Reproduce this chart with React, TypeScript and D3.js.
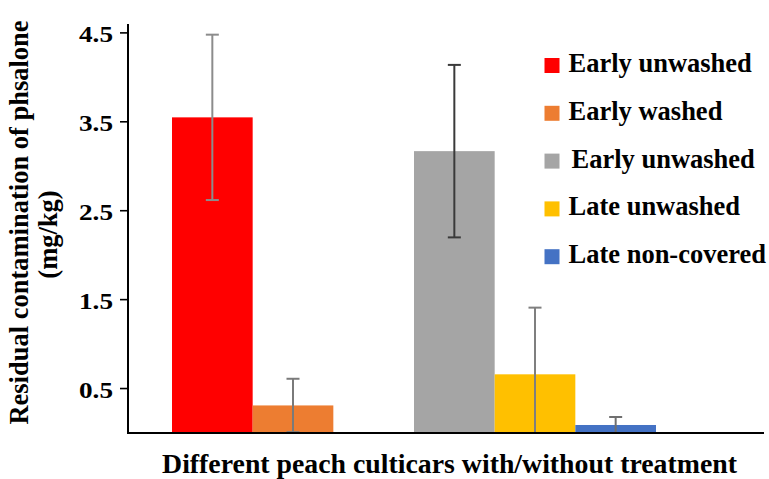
import React from "react";
import * as d3 from "d3";

const seriesNames = ["Early unwashed", "Early washed", "Early unwashed", "Late unwashed", "Late non-covered"];
const groupOfSeries = [0, 0, 1, 1, 1];
const slotInGroup = [0, 1, 0, 1, 2];
const groups = ["g1", "g2"];
const values = [3.55, 0.31, 3.17, 0.66, 0.09];
const errors = [0.93, 0.30, 0.97, 0.75, 0.09];
const yTicks = [0.5, 1.5, 2.5, 3.5, 4.5];

const barColors = ["#FF0000", "#ED7D31", "#A5A5A5", "#FFC000", "#4472C4"];
const errColors = ["#8c8c8c", "#7a7a7a", "#3a3a3a", "#7f7f7f", "#6f6f6f"];

const W = 769, H = 479;
const txt: React.CSSProperties = {
  fontFamily: '"Liberation Serif", "DejaVu Serif", serif',
  fontWeight: 700,
};

export default function App() {
  const y = d3.scaleLinear().domain([0, 4.6]).range([433, 24]);
  const x0 = d3.scaleBand<string>().domain(groups).range([172, 656]).paddingInner(0).paddingOuter(0);
  const x1 = d3.scaleBand<string>().domain(["0", "1", "2"]).range([0, x0.bandwidth()]);
  const axisX = 128, axisRight = 764;

  return (
    <svg width={W} height={H} style={{ position: "absolute", left: 0, top: 0 }}>
      <rect width={W} height={H} fill="#fff" />
      {values.map((v, i) => {
        const bx = (x0(groups[groupOfSeries[i]]) as number) + (x1(String(slotInGroup[i])) as number);
        const bw = x1.bandwidth();
        return <rect key={"b" + i} x={bx} y={y(v)} width={bw} height={y(0) - y(v)} fill={barColors[i]} />;
      })}
      {values.map((v, i) => {
        const cx = (x0(groups[groupOfSeries[i]]) as number) + (x1(String(slotInGroup[i])) as number) + x1.bandwidth() / 2;
        const hi = v + errors[i];
        const loRaw = v - errors[i];
        const lo = Math.max(0, loRaw);
        const cap = 6.5;
        return (
          <g key={"e" + i} stroke={errColors[i]} strokeWidth={2}>
            <line x1={cx} x2={cx} y1={y(hi)} y2={y(lo)} />
            <line x1={cx - cap} x2={cx + cap} y1={y(hi)} y2={y(hi)} />
            {loRaw >= 0 && <line x1={cx - cap} x2={cx + cap} y1={y(lo)} y2={y(lo)} />}
          </g>
        );
      })}
      <line x1={axisX} x2={axisX} y1={y(4.6)} y2={y(0) + 1} stroke="#000" strokeWidth={2} />
      <line x1={axisX - 1} x2={axisRight} y1={y(0)} y2={y(0)} stroke="#000" strokeWidth={2.2} />
      {yTicks.map((t) => (
        <g key={"t" + t}>
          <line x1={axisX - 8} x2={axisX} y1={y(t)} y2={y(t)} stroke="#000" strokeWidth={1.6} />
          <text x={113} y={y(t) + 9} textAnchor="end" fontSize={22.5} textLength={34} lengthAdjust="spacingAndGlyphs" fill="#000" style={txt}>
            {d3.format(".1f")(t)}
          </text>
        </g>
      ))}
      <text transform="translate(28,222.5) rotate(-90)" textAnchor="middle" fontSize={26.5} fill="#000" style={txt}>
        Residual contamination of phsalone
      </text>
      <text transform="translate(57,234.5) rotate(-90)" textAnchor="middle" fontSize={26.5} fill="#000" style={txt}>
        (mg/kg)
      </text>
      <text x={449.5} y={473} textAnchor="middle" fontSize={27.8} fill="#000" style={txt}>
        Different peach culticars with/without treatment
      </text>
      {seriesNames.map((s, i) => {
        const cy = 65.5 + i * 47.8;
        return (
          <g key={"l" + i}>
            <rect x={544.5} y={cy - 7.5} width={15} height={15} fill={barColors[i]} />
            <text x={i === 2 ? 571.5 : 568.5} y={cy + 6.5} fontSize={26.5} fill="#000" style={txt}>{s}</text>
          </g>
        );
      })}
    </svg>
  );
}
